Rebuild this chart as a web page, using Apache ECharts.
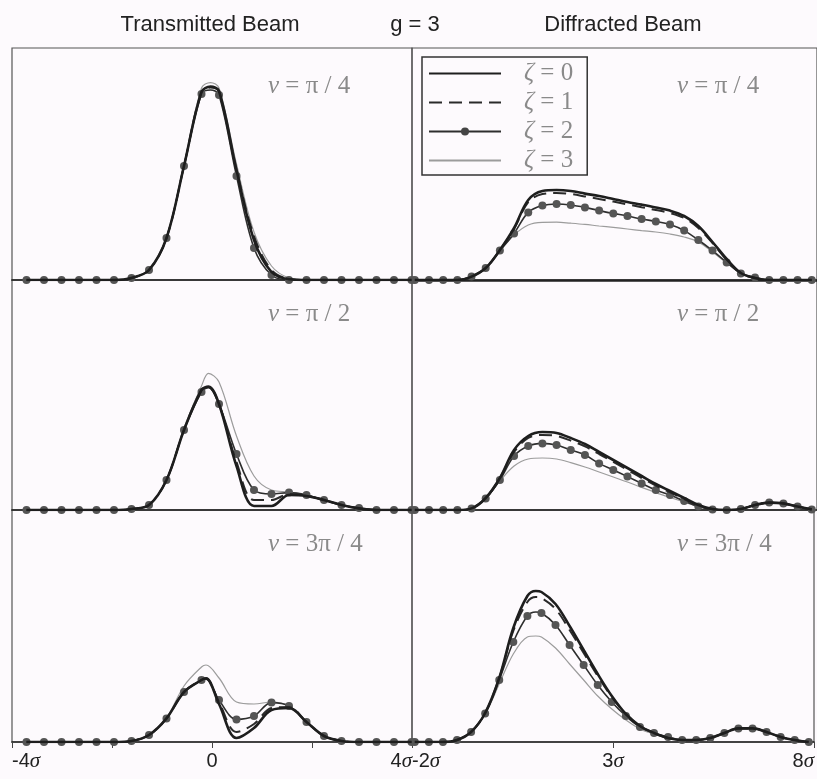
<!DOCTYPE html>
<html>
<head>
<meta charset="utf-8">
<script src="https://cdn.jsdelivr.net/npm/echarts@6/dist/echarts.min.js"></script>
<style>
html,body{margin:0;padding:0;background:#fdfafd}
#main{width:817px;height:779px}
</style>
</head>
<body>
<div id="main"></div>
<script>
// x positions (in units of sigma) of the sampled points
var xLeft = [-3.71,-3.36,-3.01,-2.66,-2.31,-1.96,-1.61,-1.26,-0.91,-0.56,-0.21,0.14,0.49,0.84,1.19,1.54,1.89,2.24,2.59,2.94,3.29,3.64,3.99];
var xRight = [-1.93,-1.58,-1.23,-0.88,-0.53,-0.18,0.17,0.52,0.87,1.22,1.57,1.92,2.27,2.62,2.97,3.32,3.67,4.02,4.37,4.72,5.07,5.42,5.77,6.12,6.47,6.82,7.17,7.52,7.87];

var zetaNames = ['ζ=0', 'ζ=1', 'ζ=2', 'ζ=3'];
var nuLabels = ['π / 4', 'π / 2', '3π / 4'];

// transmitted beam, nu = pi/4
var tA0 = [0,0,0,0,0,0,0.01,0.05,0.21,0.57,0.94,0.945,0.55,0.2,0.04,0.004,0,0,0,0,0,0,0];
var tA1 = [0,0,0,0,0,0,0.01,0.05,0.21,0.57,0.94,0.94,0.55,0.22,0.05,0.006,0,0,0,0,0,0,0];
var tA2 = [0,0,0,0,0,0,0.01,0.05,0.21,0.57,0.93,0.925,0.52,0.16,0.025,0,0,0,0,0,0,0,0];
var tA3 = [0,0,0,0,0,0,0.01,0.05,0.21,0.575,0.96,0.96,0.58,0.24,0.07,0.01,0,0,0,0,0,0,0];
var tAPeakX = -0.03, tAPeak = [0.967, 0.962, 0.95, 0.987];
// transmitted beam, nu = pi/2
var tB0 = [0,0,0,0,0,0,0.005,0.025,0.15,0.4,0.6,0.53,0.22,0.02,0.02,0.075,0.07,0.05,0.025,0.008,0,0,0];
var tB1 = [0,0,0,0,0,0,0.005,0.025,0.15,0.4,0.6,0.53,0.24,0.05,0.05,0.08,0.072,0.05,0.025,0.008,0,0,0];
var tB2 = [0,0,0,0,0,0,0.005,0.025,0.15,0.4,0.59,0.53,0.28,0.1,0.08,0.087,0.075,0.05,0.025,0.01,0,0,0];
var tB3 = [0,0,0,0,0,0,0.005,0.025,0.15,0.41,0.62,0.64,0.37,0.17,0.1,0.09,0.075,0.05,0.025,0.01,0,0,0];
var tBPeakX = -0.07, tBPeak = [0.617, 0.615, 0.612, 0.683];
// transmitted beam, nu = 3pi/4
var tC0 = [0,0,0,0,0,0,0.005,0.035,0.118,0.25,0.31,0.19,0.02,0.07,0.16,0.17,0.1,0.03,0.005,0,0,0,0];
var tC1 = [0,0,0,0,0,0,0.005,0.035,0.118,0.25,0.31,0.2,0.05,0.09,0.17,0.175,0.1,0.03,0.005,0,0,0,0];
var tC2 = [0,0,0,0,0,0,0.005,0.035,0.118,0.25,0.31,0.21,0.113,0.13,0.197,0.18,0.1,0.03,0.005,0,0,0,0];
var tC3 = [0,0,0,0,0,0,0.005,0.035,0.12,0.28,0.375,0.32,0.2,0.19,0.2,0.18,0.1,0.03,0.005,0,0,0,0];
var tCPeakX = -0.12, tCPeak = [0.318, 0.318, 0.315, 0.385];

// diffracted beam, nu = pi/4
var dA0 = [0,0,0,0,0.017,0.06,0.15,0.26,0.4,0.445,0.45,0.445,0.432,0.42,0.405,0.39,0.377,0.363,0.347,0.32,0.27,0.19,0.105,0.035,0.01,0,0,0,0];
var dA1 = [0,0,0,0,0.017,0.06,0.15,0.255,0.39,0.43,0.435,0.43,0.418,0.405,0.392,0.378,0.364,0.35,0.335,0.31,0.26,0.185,0.1,0.034,0.01,0,0,0,0];
var dA2 = [0,0,0,0,0.017,0.06,0.147,0.233,0.338,0.372,0.38,0.375,0.363,0.347,0.333,0.32,0.305,0.293,0.277,0.247,0.2,0.147,0.088,0.033,0.013,0,0,0,0];
var dA3 = [0,0,0,0,0.017,0.06,0.145,0.225,0.275,0.288,0.289,0.284,0.278,0.27,0.263,0.255,0.247,0.24,0.23,0.215,0.19,0.14,0.085,0.035,0.012,0,0,0,0];
// diffracted beam, nu = pi/2
var dB0 = [0,0,0,0,0.008,0.06,0.16,0.3,0.37,0.39,0.385,0.36,0.33,0.29,0.25,0.21,0.17,0.13,0.095,0.06,0.025,0.005,0,0.005,0.025,0.037,0.033,0.017,0.003];
var dB1 = [0,0,0,0,0.008,0.06,0.16,0.29,0.36,0.375,0.37,0.347,0.318,0.28,0.24,0.2,0.16,0.122,0.088,0.055,0.022,0.004,0,0.005,0.025,0.037,0.033,0.017,0.003];
var dB2 = [0,0,0,0,0.008,0.058,0.15,0.27,0.32,0.333,0.325,0.3,0.275,0.233,0.2,0.167,0.133,0.1,0.075,0.045,0.018,0.003,0,0.005,0.025,0.037,0.033,0.017,0.003];
var dB3 = [0,0,0,0,0.008,0.058,0.145,0.22,0.255,0.26,0.255,0.237,0.215,0.19,0.165,0.14,0.113,0.087,0.063,0.04,0.017,0.004,0,0.005,0.025,0.037,0.033,0.017,0.003];
// diffracted beam, nu = 3pi/4
var dC0 = [0,0,0,0.01,0.05,0.145,0.32,0.57,0.73,0.75,0.69,0.58,0.46,0.34,0.23,0.14,0.08,0.045,0.02,0.01,0.01,0.02,0.045,0.068,0.068,0.05,0.025,0.01,0];
var dC1 = [0,0,0,0.01,0.05,0.145,0.32,0.555,0.7,0.72,0.665,0.56,0.445,0.33,0.225,0.14,0.08,0.045,0.02,0.01,0.01,0.02,0.045,0.068,0.068,0.05,0.025,0.01,0];
var dC2 = [0,0,0,0.01,0.05,0.143,0.31,0.5,0.63,0.645,0.585,0.485,0.385,0.285,0.2,0.13,0.075,0.045,0.025,0.01,0.01,0.02,0.045,0.068,0.068,0.05,0.025,0.01,0];
var dC3 = [0,0,0,0.01,0.05,0.14,0.29,0.44,0.525,0.525,0.47,0.39,0.31,0.23,0.165,0.11,0.065,0.04,0.02,0.01,0.01,0.02,0.045,0.068,0.068,0.05,0.025,0.01,0];
var dCPeakX = 1.08, dCPeak = [0.755, 0.725, 0.65, 0.53];

var panels = [
    {x: xLeft,  curves: [tA0, tA1, tA2, tA3], px: tAPeakX, peak: tAPeak},
    {x: xRight, curves: [dA0, dA1, dA2, dA3]},
    {x: xLeft,  curves: [tB0, tB1, tB2, tB3], px: tBPeakX, peak: tBPeak},
    {x: xRight, curves: [dB0, dB1, dB2, dB3]},
    {x: xLeft,  curves: [tC0, tC1, tC2, tC3], px: tCPeakX, peak: tCPeak},
    {x: xRight, curves: [dC0, dC1, dC2, dC3], px: dCPeakX, peak: dCPeak}
];

var rowTop = [48, 280, 510];
var rowH = [232, 230, 232];

var zetaColor = ['#1e1e1e', '#2a2a2a', '#2e2e2e', '#9c9c9c'];
var zetaStyle = [
    {lineStyle: {width: 2.6}, symbol: 'none'},
    {lineStyle: {width: 2, type: [13, 7]}, symbol: 'none'},
    {lineStyle: {width: 1.6}, symbol: 'circle', symbolSize: 8, itemStyle: {color: '#555'}},
    {lineStyle: {width: 1.2}, symbol: 'none'}
];

var grids = [], xAxes = [], yAxes = [], series = [], texts = [];

function sig(v) {
    if (v === 0) return '0';
    return '{n|' + v + '}{s|σ}';
}

panels.forEach(function (p, i) {
    var row = Math.floor(i / 2), isLeft = i % 2 === 0;
    grids.push({
        left: isLeft ? 12 : 412, top: rowTop[row],
        width: isLeft ? 400 : 408, height: rowH[row],
        show: true, borderColor: '#555', borderWidth: 1.2
    });
    var bottom = row === 2;
    xAxes.push({
        type: 'value', gridIndex: i,
        min: isLeft ? -4 : -2, max: isLeft ? 4 : 8, interval: isLeft ? 4 : 5,
        splitLine: {show: false},
        axisLine: {onZero: false, lineStyle: {color: '#222', width: (i === 1) ? 2.6 : 1.7}},
        axisTick: {show: bottom, length: 6, lineStyle: {color: '#444'}},
        minorTick: {show: bottom && isLeft, splitNumber: 2, length: 6, lineStyle: {color: '#444'}},
        axisLabel: {
            show: bottom, margin: 9, formatter: sig,
            alignMinLabel: 'left', alignMaxLabel: 'right',
            fontFamily: 'Liberation Sans', fontSize: 20, color: '#222',
            rich: {
                n: {fontFamily: 'Liberation Sans', fontSize: 20, color: '#222'},
                s: {fontFamily: 'Liberation Serif', fontStyle: 'italic', fontSize: 21, color: '#222'}
            }
        }
    });
    yAxes.push({type: 'value', gridIndex: i, min: 0, max: rowH[row] / 200, show: false});
    p.curves.forEach(function (ys, z) {
        var pts = p.x.map(function (x, k) { return {value: [x, ys[k]]}; });
        if (p.peak) {
            // extra point at the crest, without a dot
            pts.push({value: [p.px, p.peak[z]], symbol: 'none'});
            pts.sort(function (a, b) { return a.value[0] - b.value[0]; });
        }
        var s = {
            name: zetaNames[z], type: 'line', xAxisIndex: i, yAxisIndex: i,
            data: pts, color: zetaColor[z],
            smooth: 0.35, z: 3 + (3 - z), silent: true, animation: false
        };
        Object.assign(s, JSON.parse(JSON.stringify(zetaStyle[z])));
        s.lineStyle.color = zetaColor[z];
        series.push(s);
    });
    texts.push({
        type: 'text', left: isLeft ? 268 : 677, top: rowTop[row] + (row === 0 ? 26 : 22),
        style: {
            text: '{i|ν}{r| = ' + nuLabels[row] + '}',
            rich: {
                i: {fontFamily: 'Liberation Serif', fontStyle: 'italic', fontSize: 25, fill: '#8a8a8a'},
                r: {fontFamily: 'Liberation Serif', fontSize: 25, fill: '#8a8a8a'}
            }
        }
    });
});

// headings above the panels
texts.push({type: 'text', x: 210, y: 14, style: {text: 'Transmitted Beam', font: '22px Liberation Sans', fill: '#222', align: 'center'}});
texts.push({type: 'text', x: 415, y: 14, style: {text: 'g = 3', font: '22px Liberation Sans', fill: '#222', align: 'center'}});
texts.push({type: 'text', x: 623, y: 14, style: {text: 'Diffracted Beam', font: '22px Liberation Sans', fill: '#222', align: 'center'}});

var hidden = {color: 'rgba(0,0,0,0)', borderColor: 'rgba(0,0,0,0)', borderWidth: 0};
var myChart = echarts.init(document.getElementById('main'));
var option = {
    backgroundColor: '#fdfafd',
    animation: false,
    legend: {
        data: [
            {name: zetaNames[0], itemStyle: hidden},
            {name: zetaNames[1], itemStyle: hidden},
            {name: zetaNames[2], itemStyle: {color: '#444'}},
            {name: zetaNames[3], itemStyle: hidden}
        ],
        left: 422, top: 57, orient: 'vertical',
        itemWidth: 72, itemHeight: 10, itemGap: 4,
        padding: [4, 14, 2, 6],
        borderColor: '#333', borderWidth: 1.5, backgroundColor: '#fdfafd',
        selectedMode: false,
        formatter: function (name) {
            return '{z|ζ}{t| = ' + name.split('=')[1] + '}';
        },
        textStyle: {
            padding: [0, 0, 0, 18],
            rich: {
                z: {fontFamily: 'Liberation Serif', fontStyle: 'italic', fontSize: 25, color: '#8a8a8a', lineHeight: 22},
                t: {fontFamily: 'Liberation Serif', fontSize: 25, color: '#8a8a8a', lineHeight: 22}
            }
        }
    },
    grid: grids,
    xAxis: xAxes,
    yAxis: yAxes,
    series: series,
    graphic: texts
};
myChart.setOption(option);
</script>
</body>
</html>
